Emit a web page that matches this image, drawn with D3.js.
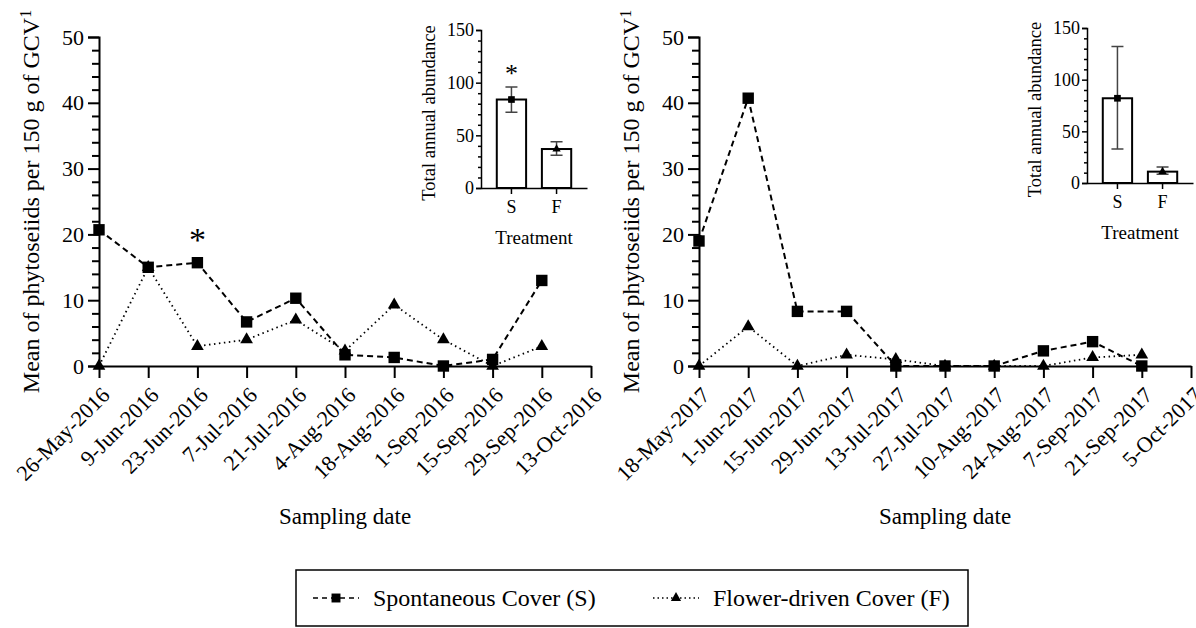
<!DOCTYPE html>
<html>
<head>
<meta charset="utf-8">
<script src="https://cdn.jsdelivr.net/npm/d3@7/dist/d3.min.js"></script>
<style>
  html, body { margin: 0; padding: 0; background: #fff; }
</style>
</head>
<body>
<svg id="chart" width="1196" height="628"></svg>
<script>
// data
const dates2016 = ['26-May-2016', '9-Jun-2016', '23-Jun-2016', '7-Jul-2016', '21-Jul-2016', '4-Aug-2016',
    '18-Aug-2016', '1-Sep-2016', '15-Sep-2016', '29-Sep-2016', '13-Oct-2016'];
const spont2016 = [20.7, 15.0, 15.7, 6.7, 10.3, 1.7, 1.3, 0, 1.0, 13.0];
const flower2016 = [0, 15.0, 3.0, 4.0, 7.0, 2.3, 9.3, 4.0, 0, 3.0];
const signif2016 = ['23-Jun-2016'];

const dates2017 = ['18-May-2017', '1-Jun-2017', '15-Jun-2017', '29-Jun-2017', '13-Jul-2017', '27-Jul-2017',
    '10-Aug-2017', '24-Aug-2017', '7-Sep-2017', '21-Sep-2017', '5-Oct-2017'];
const spont2017 = [19.0, 40.7, 8.3, 8.3, 0, 0, 0, 2.3, 3.7, 0];
const flower2017 = [0, 6.0, 0, 1.7, 1.0, 0, 0, 0, 1.3, 1.7];
const signif2017 = [];

const treatments = ['S', 'F'];
const total2016 = [84, 37];
const totalLow2016 = [72, 31];
const totalHigh2016 = [96, 44];
const totalSignif2016 = ['S'];
const total2017 = [82, 11];
const totalLow2017 = [33, 8.5];
const totalHigh2017 = [132, 15.5];
const totalSignif2017 = [];

const mainTicks = [0, 10, 20, 30, 40, 50];
const mainMinor = d3.range(0, 50, 2).filter(v => v % 10 !== 0);
const insetTicks = [0, 50, 100, 150];
const insetMinor = d3.range(0, 150, 10).filter(v => v % 50 !== 0);

const FONT = '"Liberation Serif", Tinos, "Times New Roman", Times, "DejaVu Serif", serif';

const svg = d3.select('#chart').attr('font-family', FONT);
svg.append('rect').attr('width', 1196).attr('height', 628).attr('fill', '#fff');

const squareSym = d3.symbol().type(d3.symbolSquare);
const triSym = d3.symbol().type(d3.symbolTriangle);

function drawPanel(ox, dates, spont, flower, signif, inset) {
    const g = svg.append('g').attr('transform', 'translate(' + ox + ',0)');
    const x = d3.scalePoint().domain(dates).range([99, 591]);
    const y = d3.scaleLinear().domain([0, 50]).range([366, 37]);

    // y axis
    const yAxis = g.append('g').attr('transform', 'translate(99,0)')
        .call(d3.axisLeft(y).tickValues(mainTicks).tickSize(11).tickPadding(4).tickFormat(d3.format('d')));
    yAxis.selectAll('text').style('font-size', '22px');
    g.append('g').attr('transform', 'translate(99,0)')
        .call(d3.axisLeft(y).tickValues(mainMinor).tickSize(7).tickFormat(''))
        .call(a => a.select('.domain').remove());
    // x axis
    const xAxis = g.append('g').attr('transform', 'translate(0,366)')
        .call(d3.axisBottom(x).tickSize(12).tickSizeOuter(0));
    xAxis.selectAll('text')
        .style('font-size', '22px')
        .attr('text-anchor', 'end')
        .attr('dy', '0.35em')
        .attr('transform', 'translate(6,25) rotate(-45)')
        .attr('x', 0).attr('y', 0);
    g.selectAll('.domain, .tick line').attr('stroke', '#000').attr('stroke-width', 2);
    g.selectAll('g').attr('font-family', FONT);

    // y label
    const yl = g.append('text')
        .attr('transform', 'translate(39,' + ((366 + 37) / 2) + ') rotate(-90)')
        .attr('text-anchor', 'middle')
        .style('font-size', '24px');
    yl.append('tspan').text('Mean of phytoseiids per 150 g of GCV');
    yl.append('tspan').attr('baseline-shift', 'super').style('font-size', '16px').text('1');

    g.append('text').attr('x', 345).attr('y', 524).attr('text-anchor', 'middle')
        .style('font-size', '23px').text('Sampling date');

    const line = d3.line().x((d, i) => x(dates[i])).y(d => y(d));
    g.append('path').datum(flower).attr('d', line).attr('fill', 'none')
        .attr('stroke', '#000').attr('stroke-width', 1.8).attr('stroke-dasharray', '1.5,3.5');
    g.selectAll('.tri').data(flower).join('path').attr('class', 'tri')
        .attr('transform', (d, i) => 'translate(' + x(dates[i]) + ',' + y(d) + ')')
        .attr('d', triSym.size(70)).attr('fill', '#000');
    g.append('path').datum(spont).attr('d', line).attr('fill', 'none')
        .attr('stroke', '#000').attr('stroke-width', 2).attr('stroke-dasharray', '6,4');
    g.selectAll('.sq').data(spont).join('path').attr('class', 'sq')
        .attr('transform', (d, i) => 'translate(' + x(dates[i]) + ',' + y(d) + ')')
        .attr('d', squareSym.size(130)).attr('fill', '#000');

    g.selectAll('.star').data(signif).join('text').attr('class', 'star')
        .attr('x', d => x(d)).attr('y', d => y(Math.max(spont[dates.indexOf(d)], flower[dates.indexOf(d)])))
        .attr('dy', -12)
        .attr('text-anchor', 'middle').style('font-size', '34px').text('*');

    drawInset(svg, inset);
}

function drawInset(root, o) {
    const g = root.append('g');
    const x = d3.scaleBand().domain(treatments).range([o.ax, o.ax + 106]).paddingInner(0.35).paddingOuter(0.35);
    const y = d3.scaleLinear().domain([0, 150]).range([o.zero, o.top]);

    const ya = g.append('g').attr('transform', 'translate(' + o.ax + ',0)')
        .call(d3.axisLeft(y).tickValues(insetTicks).tickSize(5).tickPadding(2));
    ya.selectAll('text').style('font-size', '18px');
    g.append('g').attr('transform', 'translate(' + o.ax + ',0)')
        .call(d3.axisLeft(y).tickValues(insetMinor).tickSize(3).tickFormat(''))
        .call(a => a.select('.domain').remove());
    const xa = g.append('g').attr('transform', 'translate(0,' + o.zero + ')')
        .call(d3.axisBottom(x).tickSize(6).tickSizeOuter(0).tickPadding(6));
    xa.selectAll('text').style('font-size', '18px');
    g.selectAll('.domain, .tick line').attr('stroke', '#000').attr('stroke-width', 1.5);
    g.selectAll('g').attr('font-family', FONT);

    g.selectAll('.bar').data(o.vals).join('rect').attr('class', 'bar')
        .attr('x', (d, i) => x(treatments[i])).attr('width', x.bandwidth())
        .attr('y', d => y(d)).attr('height', d => y(0) - y(d))
        .attr('fill', '#fff').attr('stroke', '#000').attr('stroke-width', 2);

    const cx = i => x(treatments[i]) + x.bandwidth() / 2;
    g.selectAll('.err').data(o.vals).join('path').attr('class', 'err')
        .attr('d', (d, i) => {
            const c = cx(i), lo = y(o.low[i]), hi = y(o.high[i]);
            return 'M' + (c - 6) + ',' + hi + 'H' + (c + 6) + 'M' + c + ',' + hi + 'V' + lo + 'M' + (c - 6) + ',' + lo + 'H' + (c + 6);
        })
        .attr('fill', 'none').attr('stroke', '#444').attr('stroke-width', 1.5);
    g.append('path').attr('transform', 'translate(' + cx(0) + ',' + y(o.vals[0]) + ')')
        .attr('d', squareSym.size(45)).attr('fill', '#000');
    g.append('path').attr('transform', 'translate(' + cx(1) + ',' + y(o.vals[1]) + ')')
        .attr('d', triSym.size(30)).attr('fill', '#000');

    g.selectAll('.istar').data(o.signif).join('text').attr('class', 'istar')
        .attr('x', d => cx(treatments.indexOf(d)))
        .attr('y', d => y(o.high[treatments.indexOf(d)]) - 5)
        .attr('text-anchor', 'middle').style('font-size', '26px').text('*');

    g.append('text')
        .attr('transform', 'translate(' + (o.ax - 46) + ',' + ((o.zero + o.top) / 2 + 4) + ') rotate(-90)')
        .attr('text-anchor', 'middle').style('font-size', '18.5px').text('Total annual abundance');
    g.append('text').attr('x', o.ax + 53).attr('y', o.zero + 56).attr('text-anchor', 'middle')
        .style('font-size', '19px').text('Treatment');
}

drawPanel(0, dates2016, spont2016, flower2016, signif2016,
    { ax: 481, zero: 188, top: 30, vals: total2016, low: totalLow2016, high: totalHigh2016, signif: totalSignif2016 });
drawPanel(600, dates2017, spont2017, flower2017, signif2017,
    { ax: 1087, zero: 183, top: 28, vals: total2017, low: totalLow2017, high: totalHigh2017, signif: totalSignif2017 });

// legend
const lg = svg.append('g');
lg.append('rect').attr('x', 296).attr('y', 570).attr('width', 672).attr('height', 56)
    .attr('fill', '#fff').attr('stroke', '#000').attr('stroke-width', 1.5);
const legendItems = [
    { label: 'Spontaneous Cover (S)', dash: '5,4', sym: squareSym.size(80), x0: 313 },
    { label: 'Flower-driven Cover (F)', dash: '1.5,3', sym: triSym.size(45), x0: 653 }
];
legendItems.forEach(it => {
    lg.append('line').attr('x1', it.x0).attr('x2', it.x0 + 46).attr('y1', 598).attr('y2', 598)
        .attr('stroke', '#000').attr('stroke-width', 1.5).attr('stroke-dasharray', it.dash);
    lg.append('path').attr('transform', 'translate(' + (it.x0 + 23) + ',598)').attr('d', it.sym).attr('fill', '#000');
    lg.append('text').attr('x', it.x0 + 60).attr('y', 606).style('font-size', '24px').text(it.label);
});
</script>
</body>
</html>
